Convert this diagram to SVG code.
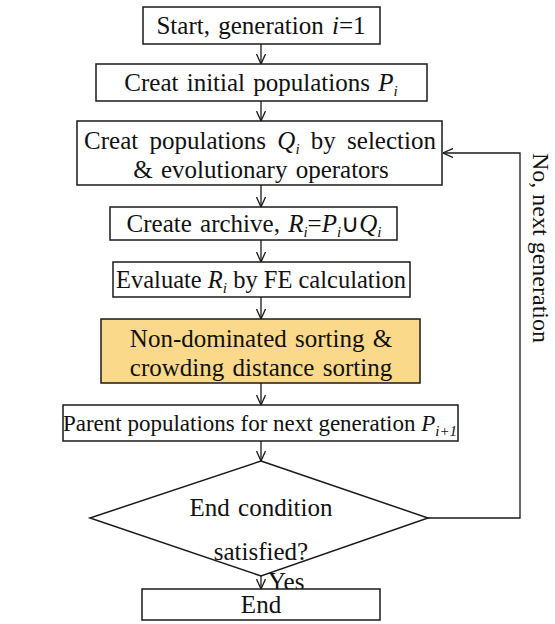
<svg xmlns="http://www.w3.org/2000/svg" width="555" height="624" viewBox="0 0 555 624">
  <defs>
    <marker id="arrow" viewBox="0 0 10 10" refX="10" refY="5" markerWidth="10" markerHeight="10" markerUnits="userSpaceOnUse" orient="auto">
      <path d="M0,0.5 L10,5 L0,9.5" fill="none" stroke="#1a1a1a" stroke-width="1.3"/>
    </marker>
  </defs>
  <style>
    .box { fill: #fff; stroke: #1a1a1a; stroke-width: 1.5; }
    .hl { fill: #fbd98a; }
    .link { fill: none; stroke: #1a1a1a; stroke-width: 1.3; marker-end: url(#arrow); }
    .sub { font-style: italic; font-size: 15px; }
    .it { font-style: italic; }
  </style>
  <rect width="555" height="624" fill="#fff"/>

  <g id="connectors">
    <line class="link" x1="261" y1="44" x2="261" y2="64"/>
    <line class="link" x1="261" y1="101" x2="261" y2="121"/>
    <line class="link" x1="261" y1="185" x2="261" y2="207"/>
    <line class="link" x1="261" y1="240" x2="261" y2="262"/>
    <line class="link" x1="261" y1="297" x2="261" y2="319"/>
    <line class="link" x1="261" y1="383" x2="261" y2="405"/>
    <line class="link" x1="261" y1="441" x2="261" y2="461"/>
    <line class="link" x1="261" y1="576" x2="261" y2="589"/>
    <polyline class="link" points="428,518 520,518 520,153 443,153"/>
    <text x="268" y="590" font-family="Liberation Serif, serif" font-size="25" fill="#111">Yes</text>
    <text transform="translate(533,248) rotate(90)" text-anchor="middle" font-family="Liberation Serif, serif" font-size="24" fill="#111">No, next generation</text>
  </g>

  <g id="start" font-family="Liberation Serif, serif" font-size="25" fill="#111" text-anchor="middle" word-spacing="2">
    <rect class="box" x="143" y="7" width="237" height="37"/>
    <text x="261" y="34">Start, generation <tspan class="it">i</tspan>=1</text>
  </g>

  <g id="init" font-family="Liberation Serif, serif" font-size="25" fill="#111" text-anchor="middle" word-spacing="2">
    <rect class="box" x="96" y="64" width="331" height="37"/>
    <text x="261" y="91">Creat initial populations <tspan class="it">P</tspan><tspan class="sub" dy="5">i</tspan></text>
  </g>

  <g id="offspring" font-family="Liberation Serif, serif" font-size="25" fill="#111" text-anchor="middle" word-spacing="2">
    <rect class="box" x="77" y="121" width="365" height="64"/>
    <text x="260" y="149" word-spacing="5">Creat populations <tspan class="it">Q</tspan><tspan class="sub" dy="5">i</tspan><tspan dy="-5"> by selection</tspan></text>
    <text x="261" y="178">&amp; evolutionary operators</text>
  </g>

  <g id="archive" font-family="Liberation Serif, serif" font-size="25" fill="#111" text-anchor="middle" word-spacing="2">
    <rect class="box" x="110" y="207" width="287" height="33"/>
    <text x="254" y="232">Create archive, <tspan class="it">R</tspan><tspan class="sub" dy="5">i</tspan><tspan dy="-5">=</tspan><tspan class="it">P</tspan><tspan class="sub" dy="5">i</tspan><tspan dy="-5">∪</tspan><tspan class="it">Q</tspan><tspan class="sub" dy="5">i</tspan></text>
  </g>

  <g id="evaluate" font-family="Liberation Serif, serif" font-size="24.5" fill="#111" text-anchor="middle">
    <rect class="box" x="113" y="262" width="297" height="35"/>
    <text x="261" y="288">Evaluate <tspan class="it">R</tspan><tspan class="sub" dy="5">i</tspan><tspan dy="-5"> by FE calculation</tspan></text>
  </g>

  <g id="sorting" font-family="Liberation Serif, serif" font-size="25" fill="#111" text-anchor="middle" word-spacing="2">
    <rect class="box hl" x="101" y="319" width="319" height="64"/>
    <text x="261" y="347">Non-dominated sorting &amp;</text>
    <text x="261" y="376">crowding distance sorting</text>
  </g>

  <g id="parents" font-family="Liberation Serif, serif" font-size="23" fill="#111" text-anchor="middle">
    <rect class="box" x="63" y="405" width="395" height="36"/>
    <text x="260" y="431">Parent populations for next generation <tspan class="it">P</tspan><tspan class="sub" dy="5" font-size="14">i+1</tspan></text>
  </g>

  <g id="decision" font-family="Liberation Serif, serif" font-size="25" fill="#111" text-anchor="middle" word-spacing="2">
    <polygon class="box" points="261,461 428,518 261,576 90,518"/>
    <text x="261" y="516">End condition</text>
    <text x="261" y="560">satisfied?</text>
  </g>

  <g id="end" font-family="Liberation Serif, serif" font-size="25" fill="#111" text-anchor="middle">
    <rect class="box" x="142" y="589" width="238" height="31"/>
    <text x="261" y="613">End</text>
  </g>
</svg>
